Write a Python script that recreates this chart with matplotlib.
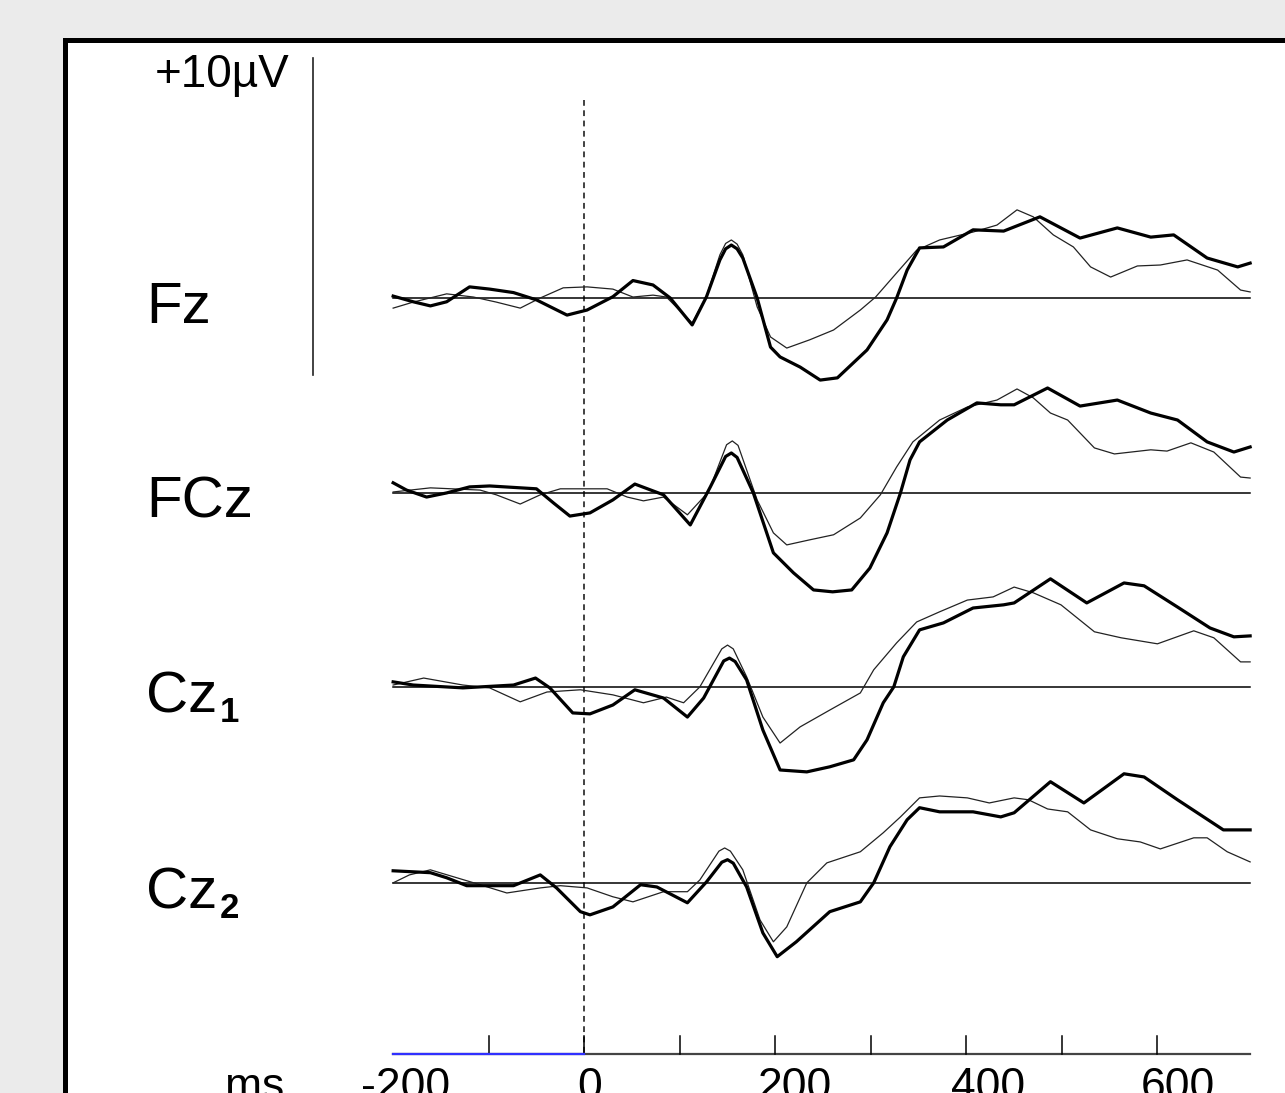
import matplotlib
matplotlib.use("Agg")
import matplotlib.pyplot as plt
from matplotlib.patches import Rectangle
from matplotlib.transforms import offset_copy

plt.rcParams['font.family'] = ['Liberation Sans', 'DejaVu Sans']

# --- data (ms, µV) ---
channels = ['Fz', 'FCz', 'Cz', 'Cz']
subscripts = ['', '', '1', '2']

fz_thick_t = [-200, -179, -161, -144, -120, -99, -74, -50, -18, 3, 30, 51, 72, 90, 113, 128, 142, 148, 154, 160,
              166, 181, 195, 205, 226, 247, 265, 296, 317, 327, 338, 351, 376, 407, 439, 477, 519, 558, 593,
              617, 652, 684, 697]
fz_thick_v = [0.06, -0.12, -0.25, -0.12, 0.35, 0.28, 0.17, -0.06, -0.54, -0.38, 0.04, 0.55, 0.41, 0.0, -0.85,
              0.04, 1.20, 1.55, 1.67, 1.55, 1.26, 0.0, -1.55, -1.86, -2.18, -2.59, -2.52, -1.64, -0.69, 0.0,
              0.88, 1.58, 1.61, 2.15, 2.11, 2.56, 1.89, 2.21, 1.92, 1.99, 1.26, 0.98, 1.10]
fz_thin_t = [-200, -179, -144, -116, -92, -67, -46, -22, 3, 30, 51, 72, 86, 113, 128, 142, 148, 154, 160, 166,
             181, 195, 212, 236, 261, 289, 305, 327, 348, 372, 407, 432, 453, 470, 491, 512, 530, 551, 579,
             603, 631, 663, 687, 697]
fz_thin_v = [-0.32, -0.13, 0.13, 0.03, -0.13, -0.32, 0.0, 0.32, 0.35, 0.28, 0.03, 0.09, 0.03, -0.79, 0.06,
             1.36, 1.72, 1.83, 1.70, 1.36, -0.28, -1.23, -1.58, -1.32, -1.01, -0.38, 0.03, 0.79, 1.51, 1.83,
             2.08, 2.30, 2.78, 2.56, 1.99, 1.61, 0.98, 0.66, 1.01, 1.04, 1.20, 0.88, 0.25, 0.19]

fcz_thick_t = [-200, -186, -165, -144, -120, -99, -50, -32, -15, 6, 30, 53, 83, 111, 132, 148, 154, 160, 177,
               198, 219, 240, 260, 280, 299, 317, 331, 341, 351, 380, 411, 436, 450, 485, 519, 558, 593, 621,
               652, 680, 697]
fcz_thick_v = [0.32, 0.09, -0.13, 0.0, 0.19, 0.22, 0.13, -0.32, -0.73, -0.63, -0.22, 0.28, -0.06, -1.01, 0.19,
               1.15, 1.26, 1.12, 0.0, -1.89, -2.52, -3.06, -3.12, -3.06, -2.37, -1.26, 0.0, 1.04, 1.61, 2.30,
               2.84, 2.78, 2.78, 3.31, 2.74, 2.93, 2.52, 2.30, 1.61, 1.29, 1.45]
fcz_thin_t = [-200, -161, -109, -92, -67, -46, -25, 24, 45, 62, 83, 108, 130, 149, 155, 161, 181, 198, 212,
              236, 261, 289, 310, 327, 344, 372, 401, 432, 453, 470, 488, 506, 534, 555, 593, 610, 635, 659,
              687, 697]
fcz_thin_v = [0.03, 0.16, 0.09, -0.06, -0.35, -0.06, 0.13, 0.13, -0.13, -0.25, -0.13, -0.69, 0.03, 1.52,
              1.64, 1.50, -0.22, -1.26, -1.64, -1.48, -1.32, -0.79, -0.06, 0.82, 1.61, 2.30, 2.71, 2.93, 3.28,
              3.00, 2.52, 2.30, 1.42, 1.23, 1.36, 1.32, 1.58, 1.29, 0.50, 0.47]

cz1_thick_t = [-200, -179, -127, -74, -51, -36, -12, 6, 30, 53, 83, 108, 125, 146, 152, 158, 170, 187, 205,
               233, 257, 282, 296, 313, 324, 334, 351, 376, 407, 439, 450, 488, 526, 565, 586, 621, 655, 680,
               697]
cz1_thick_v = [0.16, 0.06, -0.03, 0.06, 0.28, -0.03, -0.82, -0.85, -0.57, -0.09, -0.35, -0.95, -0.35, 0.82,
               0.91, 0.80, 0.22, -1.36, -2.62, -2.68, -2.52, -2.30, -1.67, -0.50, 0.0, 0.95, 1.80, 2.02, 2.49,
               2.59, 2.65, 3.41, 2.65, 3.28, 3.19, 2.52, 1.86, 1.58, 1.61]
cz1_thin_t = [-200, -168, -127, -99, -67, -39, -4, 30, 62, 86, 104, 121, 144, 150, 156, 170, 187, 205, 226,
              257, 289, 303, 327, 348, 372, 401, 428, 450, 470, 499, 534, 562, 600, 638, 659, 687, 697]
cz1_thin_v = [0.06, 0.28, 0.06, -0.03, -0.47, -0.16, -0.09, -0.25, -0.50, -0.32, -0.50, 0.0, 1.20, 1.32,
              1.20, 0.32, -0.95, -1.77, -1.26, -0.73, -0.19, 0.54, 1.39, 2.05, 2.37, 2.74, 2.84, 3.15, 2.97,
              2.59, 1.74, 1.55, 1.36, 1.77, 1.55, 0.79, 0.79]

cz2_thick_t = [-200, -161, -144, -123, -74, -46, -29, -4, 6, 30, 59, 76, 108, 128, 144, 150, 156, 170, 187,
               202, 222, 257, 289, 303, 320, 338, 351, 372, 407, 436, 450, 488, 523, 565, 586, 621, 669, 697]
cz2_thick_v = [0.38, 0.32, 0.16, -0.09, -0.09, 0.25, -0.16, -0.91, -1.01, -0.76, -0.06, -0.13, -0.63, 0.03,
               0.65, 0.73, 0.62, -0.13, -1.58, -2.33, -1.86, -0.91, -0.60, 0.0, 1.14, 1.99, 2.37, 2.24, 2.24,
               2.08, 2.21, 3.19, 2.52, 3.44, 3.34, 2.62, 1.67, 1.67]
cz2_thin_t = [-200, -183, -161, -109, -81, -46, -25, 3, 30, 51, 83, 108, 121, 141, 147, 153, 166, 184, 198,
              212, 233, 254, 289, 313, 331, 351, 372, 401, 424, 450, 465, 485, 506, 530, 558, 582, 603, 638,
              652, 673, 697]
cz2_thin_v = [0.0, 0.25, 0.41, -0.06, -0.32, -0.16, -0.09, -0.16, -0.44, -0.60, -0.28, -0.28, 0.09, 1.00,
              1.10, 1.00, 0.41, -1.17, -1.86, -1.39, 0.0, 0.63, 0.98, 1.58, 2.08, 2.68, 2.74, 2.68, 2.52, 2.68,
              2.62, 2.33, 2.24, 1.67, 1.39, 1.29, 1.07, 1.42, 1.42, 0.98, 0.66]

thick_traces = [(fz_thick_t, fz_thick_v), (fcz_thick_t, fcz_thick_v),
                (cz1_thick_t, cz1_thick_v), (cz2_thick_t, cz2_thick_v)]
thin_traces = [(fz_thin_t, fz_thin_v), (fcz_thin_t, fcz_thin_v),
               (cz1_thin_t, cz1_thin_v), (cz2_thin_t, cz2_thin_v)]

tick_ms = [-100, 0, 100, 200, 300, 400, 500, 600]
label_ms = [-200, 0, 200, 400, 600]
t_start, t_end = -200, 697
baseline_start, baseline_end = -200, 0

# --- layout ---
offsets = [0.0, -6.15, -12.27, -18.45]   # channel baselines, µV
axis_y = -23.85
scale_x, scale_top, scale_len = -284, 7.57, 10.0

fig = plt.figure(figsize=(12.85, 10.93), dpi=100)
fig.patch.set_facecolor('#ebebeb')

ax = fig.add_axes([0, 0, 1, 1])
ax.set_xlim(-611.5, 733.5)
ax.set_ylim(-25.08, 9.40)
ax.axis('off')

# white panel with heavy black frame
ax.add_patch(Rectangle((0.0506, -0.05), 1.1, 1.0134, transform=ax.transAxes,
                       facecolor='white', edgecolor='black', linewidth=3.6, zorder=0, clip_on=False))

for i, off in enumerate(offsets):
    ax.plot([t_start, t_end], [off, off], color='black', lw=1.1, zorder=2)
    t, v = thin_traces[i]
    ax.plot(t, [x + off for x in v], color='#222222', lw=0.9, zorder=3)
    t, v = thick_traces[i]
    ax.plot(t, [x + off for x in v], color='black', lw=2.3, zorder=4)
    # channel name
    base_px = [323, 518, 713, 909][i]
    ylab = (298 - base_px) / 31.7
    ax.text(-458.6, ylab, channels[i], fontsize=42, va='baseline', ha='left')
    if subscripts[i]:
        ax.text(-458.6 + 74 / 0.955, ylab - 0.28, subscripts[i], fontsize=25,
                fontweight='bold', va='baseline', ha='left')

# stimulus onset
ax.plot([0, 0], [6.25, axis_y], color='#333333', lw=1.3,
        linestyle=(0, (3.2, 2.5)), zorder=1)

# scale bar
ax.plot([scale_x, scale_x], [scale_top, scale_top - scale_len], color='#222222', lw=1.2)
ax.text(scale_x - 23 / 0.955, scale_top - 0.53, '+10µV', fontsize=33, ha='right', va='center')

# time axis
ax.plot([t_start, t_end], [axis_y, axis_y], color='#444444', lw=1.6, zorder=2)
ax.plot([baseline_start, baseline_end], [axis_y, axis_y], color='#3030ff', lw=1.6, zorder=3)
for tk in tick_ms:
    ax.plot([tk, tk], [axis_y, axis_y + 18 / 31.7], color='black', lw=1.1)
label_dx = [12, 5, 20, 22, 20]
for lbl, dx in zip(label_ms, label_dx):
    tr = offset_copy(ax.transData, fig=fig, x=dx, y=0, units='dots')
    ax.text(lbl, -25.27, str(lbl), fontsize=32, ha='center', va='baseline', transform=tr, clip_on=False)
ax.text((255 - 584) / 0.955, -25.27, 'ms', fontsize=32, ha='center', va='baseline')

fig.savefig('out.png', dpi=100)
